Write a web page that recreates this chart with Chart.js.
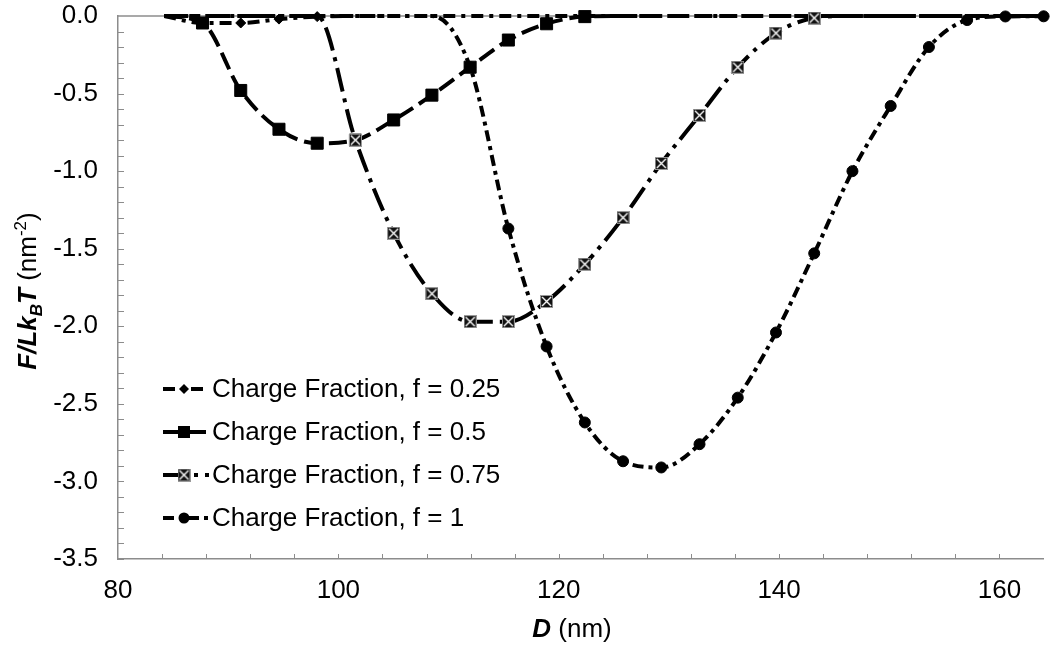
<!DOCTYPE html>
<html>
<head>
<meta charset="utf-8">
<script src="https://cdn.jsdelivr.net/npm/chart.js@4.4.0/dist/chart.umd.min.js"></script>
<style>
  html, body { margin: 0; padding: 0; background: #fff; }
  canvas { display: block; }
</style>
</head>
<body>
<canvas id="chart" width="1050" height="646" style="width:1050px;height:646px"></canvas>
<script>
// D (nm) sample positions, shared by all four series
var distances = [84.2, 87.67, 91.14, 94.61, 98.08, 101.55, 105.02, 108.49, 111.96, 115.43,
  118.9, 122.37, 125.84, 129.31, 132.78, 136.25, 139.72, 143.19, 146.66, 150.13,
  153.6, 157.07, 160.54, 164.01];

var seriesLabels = ['Charge Fraction, f = 0.25', 'Charge Fraction, f = 0.5',
  'Charge Fraction, f = 0.75', 'Charge Fraction, f = 1'];

// F/LkBT (nm^-2)
var f025 = [0, -0.045, -0.045, -0.02, -0.004, 0, 0, 0, 0, 0, 0, 0, 0, 0, 0, 0, 0, 0, 0, 0, 0, 0, 0, 0];
var f050 = [0, -0.045, -0.48, -0.73, -0.82, -0.80, -0.67, -0.51, -0.33, -0.155, -0.05, -0.004,
  0, 0, 0, 0, 0, 0, 0, 0, 0, 0, 0, 0];
var f075 = [0, 0, 0, 0, 0, -0.80, -1.40, -1.79, -1.97, -1.97, -1.84, -1.60, -1.30, -0.95,
  -0.64, -0.33, -0.11, -0.013, 0, 0, 0, 0, 0, 0];
var f100 = [0, 0, 0, 0, 0, 0, 0, 0, -0.33, -1.37, -2.13, -2.62, -2.87, -2.91, -2.76, -2.46,
  -2.04, -1.53, -1.00, -0.58, -0.20, -0.026, -0.003, -0.002];

var xTicks = [80, 100, 120, 140, 160];
var yTicks = [0, -0.5, -1, -1.5, -2, -2.5, -3, -3.5];

var FONT = '"Liberation Sans", Arial, Helvetica, sans-serif';
var AXIS_GREY = '#8c8c8c';

// square with a white cross, used for f = 0.75
function crossBox(size) {
  var c = document.createElement('canvas');
  c.width = size; c.height = size;
  var g = c.getContext('2d');
  g.fillStyle = '#111';
  g.fillRect(0, 0, size, size);
  g.strokeStyle = '#999';
  g.lineWidth = 1;
  g.strokeRect(0.5, 0.5, size - 1, size - 1);
  g.strokeStyle = '#fff';
  g.lineWidth = 1.4;
  g.beginPath();
  g.moveTo(2, 2); g.lineTo(size - 2, size - 2);
  g.moveTo(size - 2, 2); g.lineTo(2, size - 2);
  g.stroke();
  return c;
}
var boxImg = crossBox(13);

var looks = [
  { style: 'rectRot', radius: 5, dash: [12, 6, 4, 6] },
  { style: 'rect', radius: 8.5, dash: [18, 7] },
  { style: boxImg, radius: 6, dash: [24, 7, 4, 7] },
  { style: 'circle', radius: 5.5, dash: [11, 5, 4, 5] }
];

function toPoints(ys) {
  return distances.map(function (x, i) { return { x: x, y: ys[i] }; });
}

// markers only where the curve has left zero
function markerRadius(r) {
  return function (ctx) { return (ctx.raw && ctx.raw.y < 0) ? r : 0; };
}

var datasets = [f025, f050, f075, f100].map(function (ys, i) {
  return {
    label: seriesLabels[i],
    data: toPoints(ys),
    borderColor: '#000',
    backgroundColor: '#000',
    borderWidth: 4,
    borderDash: looks[i].dash,
    borderCapStyle: 'butt',
    cubicInterpolationMode: 'monotone',
    pointStyle: looks[i].style,
    pointRadius: markerRadius(looks[i].radius),
    pointBackgroundColor: '#000',
    pointBorderColor: '#000',
    pointBorderWidth: 1,
    order: 3 - i,
    clip: 8
  };
});

function drawMarker(ctx, i, x, y) {
  ctx.save();
  ctx.fillStyle = '#000';
  ctx.beginPath();
  if (i === 0) {
    ctx.moveTo(x, y - 5); ctx.lineTo(x + 5, y); ctx.lineTo(x, y + 5); ctx.lineTo(x - 5, y);
    ctx.closePath(); ctx.fill();
  } else if (i === 1) {
    ctx.fillRect(x - 6, y - 6, 12, 12);
  } else if (i === 2) {
    ctx.drawImage(boxImg, x - 6.5, y - 6.5);
  } else {
    ctx.arc(x, y, 5.5, 0, Math.PI * 2); ctx.fill();
  }
  ctx.restore();
}

// text in pieces: [text, font, baseline shift]
function drawRich(ctx, pieces, cx, cy, rotate) {
  ctx.save();
  ctx.translate(cx, cy);
  if (rotate) ctx.rotate(-Math.PI / 2);
  var total = 0;
  pieces.forEach(function (p) { ctx.font = p[1]; total += ctx.measureText(p[0]).width; });
  var x = -total / 2;
  ctx.fillStyle = '#000';
  ctx.textBaseline = 'alphabetic';
  ctx.textAlign = 'left';
  pieces.forEach(function (p) {
    ctx.font = p[1];
    ctx.fillText(p[0], x, p[2] || 0);
    x += ctx.measureText(p[0]).width;
  });
  ctx.restore();
}

var decor = {
  id: 'decor',
  beforeDatasetsDraw: function (chart) {
    var ctx = chart.ctx, a = chart.chartArea, xs = chart.scales.x, ys = chart.scales.y;
    ctx.save();
    ctx.strokeStyle = AXIS_GREY;
    ctx.lineWidth = 1.5;
    ctx.beginPath();
    var top = ys.getPixelForValue(0);
    ctx.moveTo(a.left, top); ctx.lineTo(a.right, top);
    ctx.stroke();
    ctx.lineWidth = 1;
    ctx.beginPath();
    for (var k = 1; k <= 35; k++) {
      var py = Math.round(ys.getPixelForValue(-k / 10)) + 0.5;
      ctx.moveTo(a.left, py); ctx.lineTo(a.left + 6, py);
    }
    for (var v = 84; v < xs.max; v += 4) {
      var px = Math.round(xs.getPixelForValue(v)) + 0.5;
      ctx.moveTo(px, a.bottom); ctx.lineTo(px, a.bottom - 5);
    }
    ctx.stroke();
    ctx.restore();
  },
  afterDraw: function (chart) {
    var ctx = chart.ctx;
    // legend inside the plot, lower left
    chart.data.datasets.forEach(function (ds, i) {
      var y = 389 + i * 43;
      ctx.save();
      ctx.strokeStyle = '#000';
      ctx.lineWidth = 4;
      ctx.setLineDash(ds.borderDash);
      ctx.beginPath();
      ctx.moveTo(163, y); ctx.lineTo(209, y);
      ctx.stroke();
      ctx.restore();
      drawMarker(ctx, i, 184, y);
      ctx.save();
      ctx.fillStyle = '#000';
      ctx.font = '26px ' + FONT;
      ctx.textBaseline = 'middle';
      ctx.fillText(ds.label, 212, y + 1);
      ctx.restore();
    });
    drawRich(ctx, [
      ['F/Lk', 'italic bold 26px ' + FONT],
      ['B', 'italic bold 17px ' + FONT, 6],
      ['T', 'italic bold 26px ' + FONT],
      [' (nm', '26px ' + FONT],
      ['-2', '17px ' + FONT, -10],
      [')', '26px ' + FONT]
    ], 36, 291, true);
    drawRich(ctx, [
      ['D', 'italic bold 26px ' + FONT],
      [' (nm)', '26px ' + FONT]
    ], 572, 637, false);
  }
};

new Chart(document.getElementById('chart').getContext('2d'), {
  type: 'line',
  data: { datasets: datasets },
  options: {
    responsive: false,
    devicePixelRatio: 1,
    animation: false,
    events: [],
    layout: { padding: 0 },
    plugins: { legend: { display: false }, tooltip: { enabled: false } },
    scales: {
      x: {
        type: 'linear',
        min: 80,
        max: 164,
        afterBuildTicks: function (s) { s.ticks = xTicks.map(function (v) { return { value: v }; }); },
        afterFit: function (s) { s.height = 87; s.paddingLeft = 0; s.paddingRight = 0; },
        grid: { display: false, drawTicks: false },
        border: { display: true, color: AXIS_GREY, width: 1.5 },
        ticks: { padding: 16, color: '#000', font: { family: FONT, size: 26 }, maxRotation: 0,
          callback: function (v) { return v; } }
      },
      y: {
        type: 'linear',
        min: -3.5,
        max: 0,
        afterBuildTicks: function (s) { s.ticks = yTicks.map(function (v) { return { value: v }; }); },
        afterFit: function (s) { s.width = 118; s.paddingTop = 16; s.paddingBottom = 0; },
        grid: { display: false, drawTicks: false },
        border: { display: true, color: AXIS_GREY, width: 1.5 },
        ticks: { padding: 20, color: '#000', font: { family: FONT, size: 26 },
          callback: function (v) { return v.toFixed(1); } }
      }
    }
  },
  plugins: [decor]
});
</script>
</body>
</html>
